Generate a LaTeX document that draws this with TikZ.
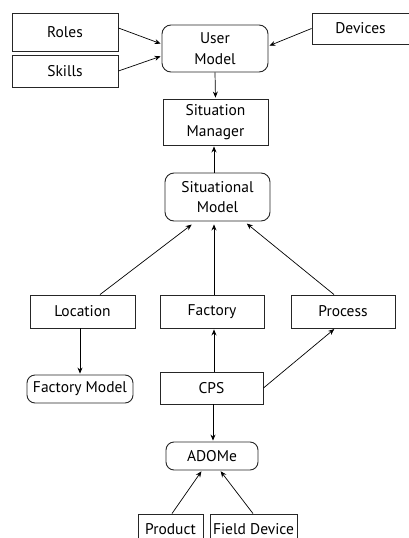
\documentclass[tikz,border=0pt]{standalone}
\usepackage{fontspec}
\setmainfont{PT Sans}
\usetikzlibrary{arrows.meta}
\begin{document}
\begin{tikzpicture}[x=1pt,y=-1pt,
  box/.style={draw=black!85, line width=0.9pt, inner sep=0pt, align=center, font=\fontsize{15.5}{20.5}\selectfont, anchor=center},
  rbox/.style={box, rounded corners=9pt},
  arr/.style={-{Stealth[length=6pt,width=5pt]}, line width=0.7pt, shorten >=1pt}]
\useasboundingbox (0,0) rectangle (409,538);
\clip (0,0) rectangle (409,538);
\node[box, minimum width=106pt, minimum height=38pt] (roles) at (65,32) {Roles};
\node[box, minimum width=106pt, minimum height=32pt] (skills) at (65,71) {Skills};
\node[rbox, minimum width=106pt, minimum height=47pt] (user) at (215,48.5) {User\\Model};
\node[box, minimum width=97pt, minimum height=31pt] (devices) at (360.5,28.5) {Devices};
\node[box, minimum width=105pt, minimum height=46pt] (sitman) at (215.5,122) {Situation\\Manager};
\node[rbox, minimum width=105pt, minimum height=48pt] (sitmod) at (217.5,197) {Situational\\Model};
\node[box, minimum width=105pt, minimum height=33pt] (location) at (82.5,311.5) {Location};
\node[box, minimum width=104pt, minimum height=33pt] (factory) at (212,311.5) {Factory};
\node[box, minimum width=104pt, minimum height=33pt] (process) at (343,311.5) {Process};
\node[rbox, minimum width=106pt, minimum height=28pt, rounded corners=8pt] (fmodel) at (80,389) {Factory Model};
\node[box, minimum width=103pt, minimum height=32pt] (cps) at (211.5,388) {CPS};
\node[rbox, minimum width=92pt, minimum height=28pt, rounded corners=8pt] (adome) at (212,456) {ADOMe};
\node[box, minimum width=65pt, minimum height=30pt] (product) at (170.5,529) {Product};
\node[box, minimum width=87pt, minimum height=30pt] (field) at (253.5,529) {Field Device};
% arrows
\draw[arr] ([yshift=4pt]roles.east) -- ([yshift=4.5pt]user.west);
\draw[arr] (skills.east) -- ([yshift=-7.5pt]user.west);
\draw[arr] (devices.west) -- ([yshift=2.5pt]user.east);
\draw[arr] (user.south) -- (sitman.north);
\draw[arr] ([xshift=-3.5pt]sitmod.north) -- ([xshift=-1.5pt]sitman.south);
\draw[arr] ([xshift=17.5pt]location.north) -- ([xshift=-25pt,yshift=-2.5pt]sitmod.south);
\draw[arr] ([xshift=2pt]factory.north) -- ([xshift=-3.5pt,yshift=-2pt]sitmod.south);
\draw[arr] ([xshift=-9pt]process.north) -- ([xshift=28.5pt,yshift=-1.5pt]sitmod.south);
\draw[arr] ([xshift=-2.5pt]location.south) -- (fmodel.north);
\draw[arr] ([xshift=2.5pt]cps.north) -- ([xshift=2pt]factory.south);
\draw[arr] (cps.east) -- ([xshift=-8pt]process.south);
\draw[arr] ([xshift=1.5pt]cps.south) -- ([xshift=1pt]adome.north);
\draw[arr] ([xshift=1.5pt]product.north) -- ([xshift=-10pt]adome.south);
\draw[arr] ([xshift=-0.5pt]field.north) -- ([xshift=8pt]adome.south);
\end{tikzpicture}
\end{document}
